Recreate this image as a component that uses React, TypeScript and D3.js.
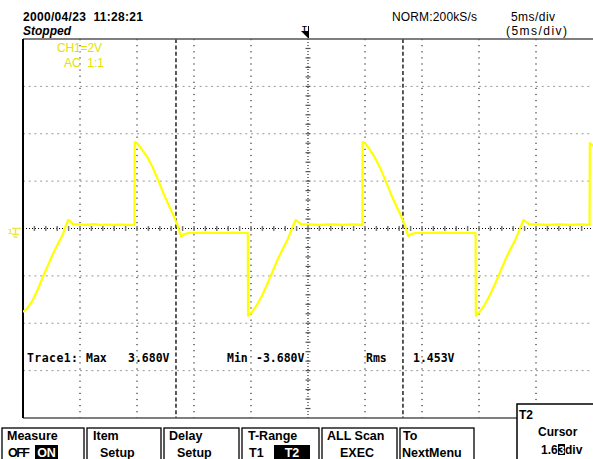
import * as d3 from 'd3';

// CH1 trace: time in ms (5 ms/div), voltage in V (2 V/div)
const traceTime = [
  0.0, 0.35, 0.8, 1.25, 1.7, 2.15, 2.6, 3.05, 3.45, 3.8, 3.97, 4.15, 4.35,
  5.0, 5.6, 6.2, 6.8, 7.4, 8.0, 8.6, 9.2, 9.78,
  9.8, 10.05, 10.45, 10.95, 11.4, 11.85, 12.3, 12.75, 13.2, 13.55, 13.85, 14.1, 14.5,
  15.2, 16.0, 16.8, 17.6, 18.4, 19.2, 19.72,
  19.74, 20.05, 20.5, 20.95, 21.4, 21.85, 22.3, 22.75, 23.2, 23.62, 23.92, 24.15, 24.4,
  25.0, 26.0, 27.0, 28.0, 29.0, 29.77,
  29.79, 30.05, 30.45, 30.9, 31.35, 31.8, 32.25, 32.7, 33.15, 33.5, 33.8, 34.05, 34.45,
  35.5, 36.5, 37.5, 38.5, 39.7,
  39.72, 40.05, 40.5, 40.95, 41.4, 41.85, 42.3, 42.75, 43.2, 43.62, 43.9, 44.15, 44.4,
  45.0, 46.0, 47.0, 48.0, 49.0, 49.7,
  49.72, 50.0,
];
const traceVolt = [
  -3.52, -3.38, -3.08, -2.62, -2.1, -1.6, -1.1, -0.66, -0.3, 0.17, 0.36, 0.3, 0.19,
  0.17, 0.15, 0.19, 0.15, 0.17, 0.15, 0.17, 0.15, 0.15,
  3.65, 3.58, 3.33, 2.98, 2.55, 2.05, 1.5, 1.02, 0.55, 0.15, -0.34, -0.25, -0.19,
  -0.19, -0.17, -0.19, -0.19, -0.17, -0.19, -0.19,
  -3.68, -3.55, -3.25, -2.85, -2.38, -1.86, -1.35, -0.9, -0.48, 0.02, 0.36, 0.27, 0.19,
  0.17, 0.15, 0.17, 0.15, 0.17, 0.15,
  3.65, 3.58, 3.31, 2.97, 2.53, 2.03, 1.48, 1.0, 0.54, 0.15, -0.32, -0.24, -0.19,
  -0.19, -0.17, -0.19, -0.19, -0.19,
  -3.68, -3.52, -3.22, -2.82, -2.35, -1.84, -1.33, -0.88, -0.46, 0.02, 0.36, 0.27, 0.19,
  0.17, 0.15, 0.17, 0.15, 0.17, 0.15,
  3.61, 3.48,
];

const cursorTimes = [13.42, 33.33]; // T1, T2 in ms
const measureNames = ['Max', 'Min', 'Rms'];
const measureValues = ['3.680V', '-3.680V', '1.453V'];
const menuTop = ['Measure', 'Item', 'Delay', 'T-Range', 'ALL Scan', 'To'];
const menuBottom = [['OFF', 'ON'], ['Setup'], ['Setup'], ['T1', 'T2'], ['EXEC'], ['NextMenu']];

const W = 593;
const H = 459;
const L = 23, R = 593, T = 39, B = 418;

const App = () => {
  const x = d3.scaleLinear().domain([0, 50]).range([L, R]);
  const y = d3.scaleLinear().domain([-8, 8]).range([B, T]);

  const line = d3
    .line<number>()
    .x((d, i) => x(traceTime[i]))
    .y(d => y(d));

  const vGrid = d3.range(5, 50, 5).filter(t => t !== 25);
  const hGrid = d3.range(-6, 8, 2).filter(v => v !== 0);
  const xMinor = d3.range(1, 50, 1);
  const yMinor = d3.range(-7.6, 8, 0.4);

  const sans = 'Liberation Sans, Arial, sans-serif';
  const mono = 'DejaVu Sans Mono, monospace';
  const yellow = '#e2e200';
  const pre = { whiteSpace: 'pre' as const };

  // menu boxes: [left, right, top-label x, bottom-label x, bottom-label width]
  const boxes = [
    [2, 84, 7, 8, 22],
    [87, 161, 93, 100, 0],
    [164, 239, 169, 177, 0],
    [242, 319, 248, 249, 0],
    [322, 397, 327, 340, 0],
    [400, 474, 403, 402, 0],
  ];
  const selX = [[35, 58], null, null, [274, 310], null, null];
  const measX = [[86, 128], [227, 256], [366, 413]];

  return (
    <svg width={W} height={H} style={{ position: 'absolute', left: 0, top: 0, background: '#fff' }}>
      <rect width={W} height={H} fill="#fff" />

      {/* header */}
      <text x={23} y={21} fontFamily={sans} fontSize={12} fontWeight="bold" textLength={120} style={pre}>
        {'2000/04/23  11:28:21'}
      </text>
      <text x={23} y={35} fontFamily={sans} fontSize={12} fontWeight="bold" fontStyle="italic">
        Stopped
      </text>
      <text x={392} y={21} fontFamily={sans} fontSize={12} textLength={85}>
        NORM:200kS/s
      </text>
      <text x={511} y={21} fontFamily={sans} fontSize={12} textLength={44}>
        5ms/div
      </text>
      <text x={506} y={35} fontFamily={sans} fontSize={12} textLength={61}>
        (5ms/div)
      </text>

      {/* grid */}
      {vGrid.map(t => (
        <line key={'v' + t} x1={x(t)} x2={x(t)} y1={T} y2={B} stroke="#000" strokeWidth={1} strokeDasharray="1.2 4.9" />
      ))}
      {hGrid.map(v => (
        <line key={'h' + v} x1={L} x2={R} y1={y(v)} y2={y(v)} stroke="#999" strokeWidth={1} strokeDasharray="2 3.7" />
      ))}
      <line x1={L} x2={R} y1={y(0)} y2={y(0)} stroke="#000" strokeWidth={1} strokeDasharray="1 2" />
      <line x1={x(25)} x2={x(25)} y1={T} y2={B} stroke="#000" strokeWidth={1} strokeDasharray="1 2" />
      {xMinor.map(t => (
        <line key={'xm' + t} x1={x(t)} x2={x(t)} y1={y(0) - 2.5} y2={y(0) + 2.5} stroke="#777" strokeWidth={1.5} />
      ))}
      {yMinor.map(v => (
        <line key={'ym' + v} x1={x(25) - 2.5} x2={x(25) + 2.5} y1={y(v)} y2={y(v)} stroke="#555" strokeWidth={1.2} />
      ))}

      {/* cursors */}
      {cursorTimes.map(t => (
        <line key={'c' + t} x1={x(t)} x2={x(t)} y1={T} y2={B} stroke="#000" strokeWidth={1.3} strokeDasharray="4 2.4" />
      ))}

      {/* frame */}
      <line x1={L} x2={R} y1={T} y2={T} stroke="#555" strokeWidth={1.5} />
      <line x1={L} x2={R} y1={B} y2={B} stroke="#555" strokeWidth={1.5} />
      <line x1={L} x2={L} y1={T} y2={B} stroke="#000" strokeWidth={2} />

      {/* channel info */}
      <text x={57} y={52} fill={yellow} fontFamily={sans} fontSize={12} textLength={45}>
        CH1=2V
      </text>
      <text x={64} y={67} fill={yellow} fontFamily={sans} fontSize={12} style={pre}>
        {'AC  1:1'}
      </text>

      {/* trigger marker */}
      <text x={302} y={31} fontFamily={sans} fontSize={8} fontWeight="bold">T</text>
      <polygon points="301,31 309,31 308,38" fill="#000" />
      <line x1={308.5} x2={308.5} y1={26} y2={38} stroke="#000" strokeWidth={1} />

      {/* ground marker */}
      <text x={8} y={234} fill="#e6e650" fontFamily={sans} fontSize={8} fontWeight="bold">1</text>
      <g stroke="#e6e650" strokeWidth={1.5} fill="none">
        <line x1={12} x2={21} y1={228.5} y2={228.5} />
        <line x1={15.5} x2={15.5} y1={229} y2={234.5} />
        <line x1={12} x2={19} y1={234.5} y2={234.5} />
        <line x1={13.5} x2={17.5} y1={237} y2={237} />
      </g>

      {/* trace */}
      <clipPath id="plot">
        <rect x={L} y={T} width={R - L} height={B - T} />
      </clipPath>
      <path d={line(traceVolt) || ''} fill="none" stroke="#ffff00" strokeWidth={2.2} strokeLinejoin="round" clipPath="url(#plot)" />

      {/* measurement line */}
      <g fontFamily={mono} fontSize={11.5} fontWeight="bold">
        <text x={27} y={362} textLength={51}>Trace1:</text>
        {measureNames.map((n, i) => (
          <text key={n} x={measX[i][0]} y={362}>{n}</text>
        ))}
        {measureValues.map((v, i) => (
          <text key={v} x={measX[i][1]} y={362}>{v}</text>
        ))}
      </g>

      {/* T2 cursor box */}
      <rect x={517} y={404} width={90} height={70} fill="#fff" stroke="#000" strokeWidth={1.5} />
      <g fontFamily={sans} fontSize={12} fontWeight="bold">
        <text x={519} y={419}>T2</text>
        <text x={538} y={436}>Cursor</text>
        <text x={541} y={454}>1.6</text>
        <rect x={558} y={444} width={7} height={11} fill="#000" />
        <text x={558.5} y={454} fill="#fff" fontSize={11}>3</text>
        <text x={565} y={454}>div</text>
      </g>

      {/* menu */}
      {boxes.map((b, i) => (
        <g key={'m' + i} fontFamily={sans} fontSize={12.5} fontWeight="bold">
          <rect x={b[0]} y={428} width={b[1] - b[0]} height={50} fill="#fff" stroke="#000" strokeWidth={1.3} />
          <text x={b[2]} y={440}>{menuTop[i]}</text>
          {b[4] ? (
            <text x={b[3]} y={457} textLength={b[4]}>{menuBottom[i][0]}</text>
          ) : (
            <text x={b[3]} y={457}>{menuBottom[i][0]}</text>
          )}
          {menuBottom[i].length > 1 && selX[i] ? (
            <>
              <rect x={selX[i]![0]} y={445} width={selX[i]![1] - selX[i]![0]} height={15} fill="#000" />
              <text x={(selX[i]![0] + selX[i]![1]) / 2} y={457} fill="#fff" textAnchor="middle">
                {menuBottom[i][1]}
              </text>
            </>
          ) : null}
        </g>
      ))}
    </svg>
  );
};

export default App;
